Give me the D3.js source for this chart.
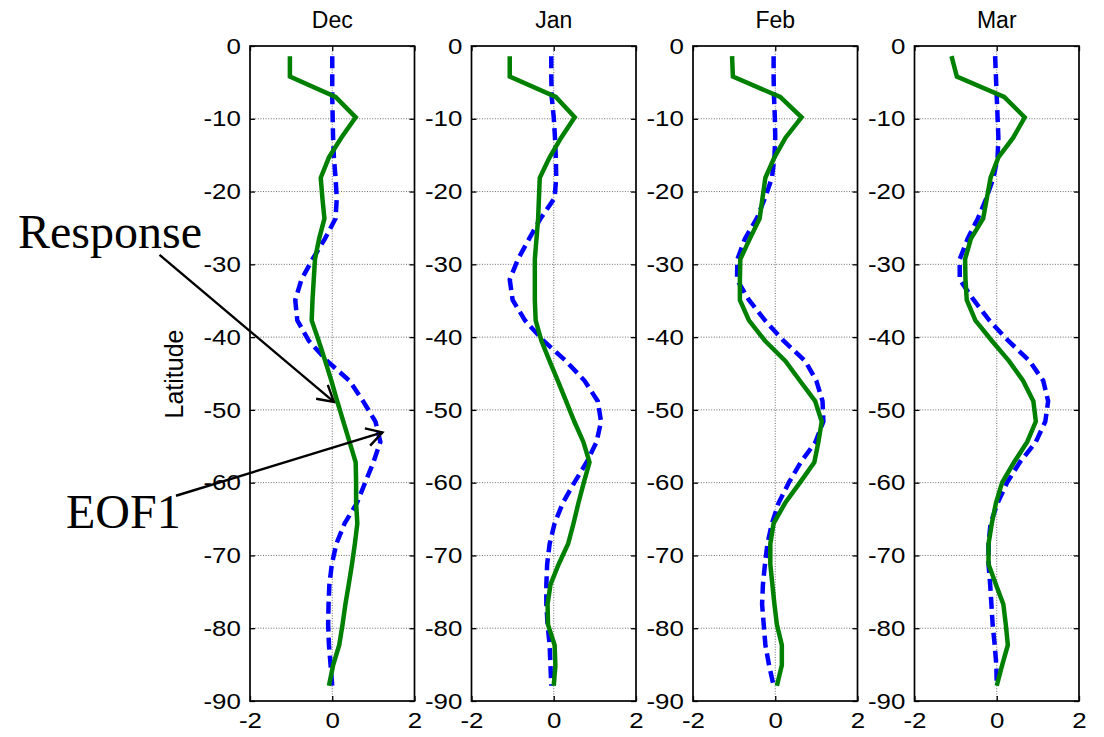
<!DOCTYPE html>
<html>
<head>
<meta charset="utf-8">
<script src="https://cdn.jsdelivr.net/npm/d3@7"></script>
<style>
  html, body { margin: 0; padding: 0; background: #fff; }
  svg { display: block; }
  .sans { font-family: Arial, "Liberation Sans", sans-serif; fill: #000; }
  .serif { font-family: "Times New Roman", "Liberation Serif", serif; fill: #000; }
</style>
</head>
<body>
<svg id="chart" width="1104" height="737"></svg>
<script>
// Southern-hemisphere Gaussian latitudes (T42 grid)
const latitudes = [-1.4, -4.2, -7.0, -9.8, -12.6, -15.3, -18.1, -20.9, -23.7, -26.5,
  -29.3, -32.1, -34.9, -37.7, -40.5, -43.3, -46.0, -48.8, -51.6, -54.4,
  -57.2, -60.0, -62.8, -65.6, -68.4, -71.2, -74.0, -76.7, -79.5, -82.3, -85.1, -87.9];

const months = ["Dec", "Jan", "Feb", "Mar"];

// Response profiles (solid green), one per month
const responseDec = [-1.03, -1.03, 0.08, 0.57, 0.22, -0.08, -0.28, -0.24, -0.19, -0.32,
  -0.42, -0.45, -0.48, -0.50, -0.33, -0.17, -0.02, 0.12, 0.27, 0.42,
  0.57, 0.58, 0.58, 0.61, 0.55, 0.48, 0.40, 0.32, 0.25, 0.17, 0.02, -0.08];
const responseJan = [-1.07, -1.07, 0.05, 0.51, 0.18, -0.10, -0.34, -0.36, -0.38, -0.42,
  -0.46, -0.46, -0.46, -0.44, -0.30, -0.10, 0.10, 0.30, 0.50, 0.72,
  0.87, 0.73, 0.60, 0.48, 0.35, 0.12, -0.08, -0.15, -0.14, 0.02, 0.04, 0.00];
const responseFeb = [-1.05, -1.03, 0.12, 0.64, 0.25, -0.02, -0.24, -0.31, -0.38, -0.62,
  -0.85, -0.86, -0.86, -0.64, -0.25, 0.25, 0.60, 0.97, 1.13, 1.05,
  0.95, 0.60, 0.24, -0.04, -0.12, -0.12, -0.07, -0.02, 0.04, 0.16, 0.16, 0.04];
const responseMar = [-1.10, -0.97, 0.18, 0.68, 0.40, 0.04, -0.15, -0.24, -0.33, -0.63,
  -0.77, -0.76, -0.73, -0.52, -0.12, 0.30, 0.64, 0.89, 0.95, 0.74,
  0.42, 0.13, -0.02, -0.12, -0.20, -0.20, -0.02, 0.16, 0.22, 0.27, 0.13, 0.00];

// Leading EOF profiles (dashed blue), one per month
const eofDec = [0.00, 0.00, 0.00, 0.01, 0.02, 0.04, 0.08, 0.11, 0.08, -0.18,
  -0.48, -0.75, -0.90, -0.85, -0.57, -0.12, 0.42, 0.75, 1.05, 1.17,
  1.00, 0.80, 0.60, 0.30, 0.10, -0.01, -0.07, -0.09, -0.10, -0.08, -0.04, 0.00];
const eofJan = [-0.06, -0.06, -0.05, 0.00, 0.03, 0.05, 0.06, 0.02, -0.32, -0.60,
  -0.87, -1.07, -1.00, -0.70, -0.25, 0.30, 0.75, 1.07, 1.15, 1.04,
  0.80, 0.50, 0.22, 0.02, -0.10, -0.16, -0.18, -0.18, -0.15, -0.10, -0.08, -0.06];
const eofFeb = [-0.04, -0.04, -0.03, -0.01, 0.00, -0.02, -0.08, -0.25, -0.45, -0.74,
  -0.92, -0.93, -0.64, -0.25, 0.20, 0.73, 1.00, 1.15, 1.17, 0.98,
  0.62, 0.33, 0.08, -0.08, -0.19, -0.25, -0.30, -0.32, -0.28, -0.24, -0.15, -0.04];
const eofMar = [-0.04, -0.02, 0.00, 0.02, 0.04, 0.02, -0.08, -0.25, -0.46, -0.71,
  -0.90, -0.90, -0.56, -0.18, 0.28, 0.80, 1.13, 1.25, 1.18, 0.95,
  0.56, 0.25, 0.02, -0.15, -0.20, -0.20, -0.16, -0.13, -0.10, -0.05, -0.01, 0.00];

const responseSeries = [responseDec, responseJan, responseFeb, responseMar];
const eofSeries = [eofDec, eofJan, eofFeb, eofMar];

const xTicks = [-2, 0, 2];
const yTicks = [0, -10, -20, -30, -40, -50, -60, -70, -80, -90];
const yGrid = [-10, -20, -30, -40, -50, -60, -70, -80];

// Layout
const svg = d3.select("#chart");
const panelTop = 46, panelBottom = 701;
const panelWidth = 164.5, panelStep = 221.5, firstLeft = 250;

const y = d3.scaleLinear().domain([0, -90]).range([panelTop, panelBottom]);

const line = xs => d3.line()
  .x(d => xs(d[1]))
  .y(d => y(d[0]));

const scales = [];

months.forEach((m, i) => {
  const left = firstLeft + i * panelStep;
  const x = d3.scaleLinear().domain([-2, 2]).range([left, left + panelWidth]);
  scales.push(x);
  const g = svg.append("g");

  // dotted grid
  g.selectAll("line.hgrid").data(yGrid).join("line")
    .attr("x1", x(-2)).attr("x2", x(2))
    .attr("y1", d => y(d)).attr("y2", d => y(d))
    .attr("stroke", "#6e6e6e").attr("stroke-width", 1)
    .attr("stroke-dasharray", "1,1.6");
  g.append("line")
    .attr("x1", x(0)).attr("x2", x(0))
    .attr("y1", y(0)).attr("y2", y(-90))
    .attr("stroke", "#6e6e6e").attr("stroke-width", 1)
    .attr("stroke-dasharray", "1,1.6");

  // axes (ticks point inward); tick labels are slightly widened
  const ax = (axis, tx, ty) => {
    const a = g.append("g").attr("transform", `translate(${tx},${ty})`).call(axis);
    a.select(".domain").remove();
    a.selectAll(".tick line").attr("stroke", "#000").attr("stroke-width", 1.3);
    a.selectAll("text").attr("class", "sans")
      .style("font-size", "22.5px")
      .attr("transform", "scale(1.15,1)");
    return a;
  };
  ax(d3.axisLeft(y).tickValues(yTicks).tickSize(-5).tickPadding(8)
    .tickFormat(d => String(d)), x(-2), 0);
  ax(d3.axisRight(y).tickValues(yTicks).tickSize(-5).tickFormat(""), x(2), 0);
  ax(d3.axisBottom(x).tickValues(xTicks).tickSize(-5).tickPadding(11)
    .tickFormat(d => String(d)), 0, y(-90));
  ax(d3.axisTop(x).tickValues(xTicks).tickSize(-5).tickFormat(""), 0, y(0));

  // frame
  g.append("rect")
    .attr("x", x(-2)).attr("y", y(0))
    .attr("width", x(2) - x(-2)).attr("height", y(-90) - y(0))
    .attr("fill", "none").attr("stroke", "#000").attr("stroke-width", 1.7);

  // profiles
  const eofPts = latitudes.map((la, k) => [la, eofSeries[i][k]]);
  const respPts = latitudes.map((la, k) => [la, responseSeries[i][k]]);
  g.append("path").datum(eofPts)
    .attr("d", line(x)).attr("fill", "none")
    .attr("stroke", "#0000ff").attr("stroke-width", 4.5)
    .attr("stroke-dasharray", "12,6");
  g.append("path").datum(respPts)
    .attr("d", line(x)).attr("fill", "none")
    .attr("stroke", "#008000").attr("stroke-width", 4.5)
    .attr("stroke-linejoin", "miter");

  // title
  g.append("text")
    .attr("class", "sans")
    .attr("x", x(0)).attr("y", 28)
    .attr("text-anchor", "middle")
    .style("font-size", "23px")
    .text(m);
});

// y-axis label
svg.append("text")
  .attr("class", "sans")
  .attr("transform", "translate(183,374) rotate(-90)")
  .attr("text-anchor", "middle")
  .style("font-size", "25px")
  .text("Latitude");

// annotations with arrows (anchored in Dec panel coordinates)
const xDec = scales[0];
const arrows = [
  { from: [-4.2, -28.7], to: [0.04, -48.9] },   // Response
  { from: [-3.8, -61.8], to: [1.22, -53.1] }    // EOF1
];
arrows.forEach(a => {
  const x1 = xDec(a.from[0]), y1 = y(a.from[1]);
  const x2 = xDec(a.to[0]), y2 = y(a.to[1]);
  const ang = Math.atan2(y2 - y1, x2 - x1);
  const L = 18, spread = Math.PI / 6;
  svg.append("line").attr("x1", x1).attr("y1", y1).attr("x2", x2).attr("y2", y2)
    .attr("stroke", "#000").attr("stroke-width", 2.4);
  svg.append("path")
    .attr("d", `M${x2 - L * Math.cos(ang - spread)},${y2 - L * Math.sin(ang - spread)}` +
      `L${x2},${y2}L${x2 - L * Math.cos(ang + spread)},${y2 - L * Math.sin(ang + spread)}`)
    .attr("fill", "none").attr("stroke", "#000").attr("stroke-width", 2.4);
});

svg.append("text")
  .attr("class", "serif")
  .attr("x", 18).attr("y", 248)
  .style("font-size", "48px")
  .text("Response");
svg.append("text")
  .attr("class", "serif")
  .attr("x", 66).attr("y", 528)
  .style("font-size", "48px")
  .text("EOF1");
</script>
</body>
</html>
